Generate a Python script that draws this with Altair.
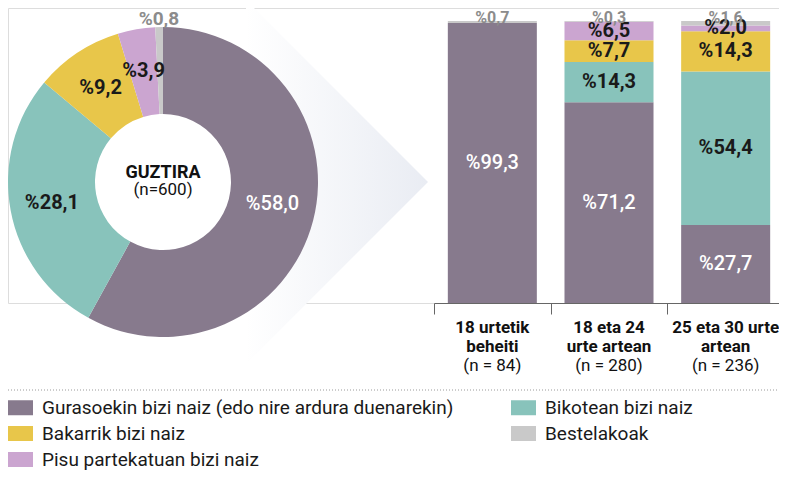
import altair as alt
import pandas as pd

# ---------------- data ----------------
categories = [
    "Gurasoekin bizi naiz (edo nire ardura duenarekin)",
    "Bikotean bizi naiz",
    "Bakarrik bizi naiz",
    "Pisu partekatuan bizi naiz",
    "Bestelakoak",
]
colors = ["#877a8d", "#88c3bb", "#e8c64a", "#cba5d0", "#c9c9c9"]

total_values = [58.0, 28.1, 9.2, 3.9, 0.8]
center_title = "GUZTIRA"
center_n = "(n=600)"

groups = ["18 urtetik beheiti", "18 eta 24 urte artean", "25 eta 30 urte artean"]
group_lines = ["18 urtetik\nbeheiti", "18 eta 24\nurte artean", "25 eta 30 urte\nartean"]
group_n = ["(n = 84)", "(n = 280)", "(n = 236)"]

guraso = [99.3, 71.2, 27.7]
bikotean = [0.0, 14.3, 54.4]
bakarrik = [0.0, 7.7, 14.3]
pisu = [0.0, 6.5, 2.0]
beste = [0.7, 0.3, 1.6]


def fmt(v):
    return "%" + f"{v:.1f}".replace(".", ",")


donut_df = pd.DataFrame({
    "cat": categories,
    "value": total_values,
    "k": list(range(len(categories))),
    "label": [fmt(v) for v in total_values],
})

series = [guraso, bikotean, bakarrik, pisu, beste]
rows = []
for gi, g in enumerate(groups):
    for k, cat in enumerate(categories):
        v = series[k][gi]
        rows.append({"group": g, "cat": cat, "value": v, "k": k, "label": fmt(v)})
bar_df = pd.DataFrame(rows)

group_df = pd.DataFrame({"group": groups, "lines": group_lines, "n": group_n})
center_df = pd.DataFrame({"title": [center_title], "n": [center_n]})

# ---------------- styling ----------------
FONT = "Roboto"
CX, CY = 155, 174  # donut centre (chart coords)

# legend fills column-wise: col 1 = Guraso, Bakarrik, Pisu ; col 2 = Bikotean, Beste
legend_idx = [0, 2, 3, 1, 4]
legend_order = [categories[i] for i in legend_idx]
legend_colors = [colors[i] for i in legend_idx]
color_scale = alt.Scale(domain=legend_order, range=legend_colors)
legend = alt.Legend(
    title=None, orient="none", legendX=0, legendY=387, columns=2,
    columnPadding=57, rowPadding=3, symbolType="M-1,-0.6L1,-0.6L1,0.6L-1,0.6Z",
    symbolSize=625, symbolStrokeWidth=0, symbolOpacity=1, labelFontSize=19,
    labelFont=FONT, labelColor="#1a1a1a", labelOffset=9, labelLimit=600,
)

theta_scale = alt.Scale(domain=[0, 100])
x_scale = alt.Scale(range=[426, 776], paddingInner=0, paddingOuter=0)
y_scale = alt.Scale(domain=[0, 100], range=[295, 13])

grad = alt.LinearGradient(
    gradient="linear", x1=0, x2=1, y1=0, y2=0,
    stops=[alt.GradientStop(offset=0, color="#ffffff"),
           alt.GradientStop(offset=1, color="#e9ecf3")],
)

# chevron behind the donut
chevron = alt.Chart(center_df).mark_point(
    shape="M-0.5,-1L0.5,0L-0.5,1Z", size=132496, filled=True, fill=grad,
    strokeWidth=0, opacity=1,
).encode(x=alt.value(329), y=alt.value(174))

# donut
arcs = alt.Chart(donut_df).mark_arc(innerRadius=68, outerRadius=155).encode(
    theta=alt.Theta("value:Q", stack=True, scale=theta_scale),
    color=alt.Color("cat:N", scale=color_scale, legend=legend),
    order=alt.Order("k:Q"),
    x=alt.value(CX), y=alt.value(CY),
)

donut_text = alt.Chart(donut_df).transform_stack(
    stack="value", groupby=[], as_=["t0", "t1"],
    sort=[alt.SortField("k", order="ascending")],
).transform_calculate(mid="(datum.t0 + datum.t1) / 2")

d_white = donut_text.transform_filter("datum.k == 0").mark_text(
    radius=113, fontSize=20, fontWeight=500, font=FONT, color="white", dy=-6,
).encode(theta=alt.Theta("mid:Q", stack=None, scale=theta_scale), text="label:N",
         x=alt.value(CX), y=alt.value(CY))

d_black = donut_text.transform_filter("datum.k >= 1 && datum.k <= 3").mark_text(
    radius=113, fontSize=20, fontWeight="bold", font=FONT, color="#1a1a1a",
).encode(theta=alt.Theta("mid:Q", stack=None, scale=theta_scale), text="label:N",
         x=alt.value(CX), y=alt.value(CY))

d_gray = donut_text.transform_filter("datum.k == 4").mark_text(
    radius=163, fontSize=19, fontWeight="bold", font=FONT, color="#8c8c8c",
).encode(theta=alt.Theta("mid:Q", stack=None, scale=theta_scale), text="label:N",
         x=alt.value(CX), y=alt.value(CY))

c_title = alt.Chart(center_df).mark_text(
    fontSize=18, fontWeight="bold", font=FONT, color="#111", baseline="alphabetic",
).encode(text="title:N", x=alt.value(CX), y=alt.value(170))
c_n = alt.Chart(center_df).mark_text(
    fontSize=17, font=FONT, color="#111", baseline="alphabetic",
).encode(text="n:N", x=alt.value(CX), y=alt.value(187))

# stacked bars
xenc = alt.X("group:N", sort=groups, scale=x_scale,
             axis=alt.Axis(title=None, labels=False, tickBand="extent", tickSize=11,
                           domainColor="#666", tickColor="#666", grid=False,
                           domainWidth=1, tickWidth=1))
bars = alt.Chart(bar_df).mark_bar(width=alt.RelativeBandSize(0.763)).encode(
    x=xenc,
    y=alt.Y("value:Q", stack="zero", scale=y_scale, axis=None),
    color=alt.Color("cat:N", scale=color_scale, legend=legend),
    order=alt.Order("k:Q"),
)

bar_text = alt.Chart(bar_df).transform_stack(
    stack="value", groupby=["group"], as_=["v0", "v1"],
    sort=[alt.SortField("k", order="ascending")],
).transform_calculate(mid="(datum.v0 + datum.v1) / 2").transform_filter("datum.value > 0")

xt = alt.X("group:N", sort=groups, scale=x_scale)
b_white = bar_text.transform_filter("datum.k == 0").mark_text(
    fontSize=20, fontWeight=500, font=FONT, color="white",
).encode(x=xt, y=alt.Y("mid:Q", stack=None, scale=y_scale), text="label:N")
b_black = bar_text.transform_filter("datum.k >= 1 && datum.k <= 3").mark_text(
    fontSize=20, fontWeight="bold", font=FONT, color="#1a1a1a",
).encode(x=xt, y=alt.Y("mid:Q", stack=None, scale=y_scale), text="label:N")
b_gray = bar_text.transform_filter("datum.k == 4").mark_text(
    fontSize=16, fontWeight="bold", font=FONT, color="#8c8c8c",
    baseline="alphabetic", dy=2,
).encode(x=xt, y=alt.Y("v1:Q", stack=None, scale=y_scale), text="label:N")

g_lines = alt.Chart(group_df).mark_text(
    fontSize=17, fontWeight="bold", font=FONT, color="#111", baseline="alphabetic",
    lineBreak="\n", lineHeight=19,
).encode(x=xt, y=alt.value(325), text="lines:N")
g_n = alt.Chart(group_df).mark_text(
    fontSize=17, font=FONT, color="#111", baseline="alphabetic",
).encode(x=xt, y=alt.value(363), text="n:N")

# dotted separator
sep = alt.Chart(center_df).mark_rule(strokeDash=[1, 2], color="#9a9a9a", strokeWidth=1).encode(
    x=alt.value(0), x2=alt.value(771), y=alt.value(382)
)

chart = alt.layer(
    chevron, arcs, d_white, d_black, d_gray, c_title, c_n,
    bars, b_white, b_black, b_gray, g_lines, g_n, sep,
).properties(
    width=771, height=295,
    padding={"left": 0, "top": 0, "right": 0, "bottom": 167},
    autosize=alt.AutoSizeParams(type="none"),
).configure_view(stroke=None).configure(font=FONT)

chart.save("out.html", embed_options={"renderer": "svg", "actions": False})
